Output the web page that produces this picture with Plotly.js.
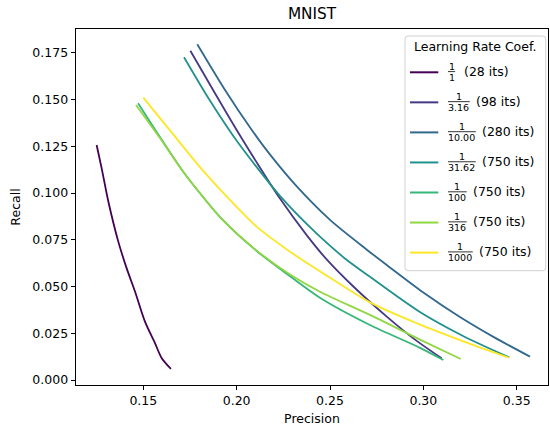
<!DOCTYPE html>
<html>
<head>
<meta charset="utf-8">
<script src="https://cdn.plot.ly/plotly-3.0.1.min.js"></script>
<style>html,body{margin:0;padding:0;background:#fff;}#chart{width:550px;height:430px;}</style>
</head>
<body>
<div id="chart"></div>
<script>
// ---- data ----
const lrDenominators = ["1", "3.16", "10.00", "31.62", "100", "316", "1000"];
const iterLabels = ["28 its", "98 its", "280 its", "750 its", "750 its", "750 its", "750 its"];

const precision_1 = [0.1250, 0.1277, 0.1313, 0.1366, 0.1411, 0.1456, 0.1509, 0.1563, 0.1599, 0.1648];
const recall_1    = [0.1257, 0.1132, 0.0953, 0.0740, 0.0597, 0.0472, 0.0312, 0.0196, 0.0116, 0.0059];

const precision_316 = [0.1752, 0.1880, 0.2000, 0.2116, 0.2232, 0.2375, 0.2482, 0.2625, 0.2804, 0.2950, 0.3098];
const recall_316    = [0.1761, 0.1540, 0.1337, 0.1150, 0.0970, 0.0775, 0.0645, 0.0500, 0.0339, 0.0220, 0.0116];

const precision_10 = [0.1789, 0.1935, 0.2081, 0.2179, 0.2322, 0.2500, 0.2697, 0.2804, 0.3000, 0.3196, 0.3380, 0.3571];
const recall_10    = [0.1795, 0.1555, 0.1337, 0.1205, 0.1035, 0.0856, 0.0697, 0.0615, 0.0468, 0.0337, 0.0228, 0.0125];

const precision_3162 = [0.1718, 0.1850, 0.1982, 0.2100, 0.2232, 0.2411, 0.2580, 0.2714, 0.2975, 0.3210, 0.3460];
const recall_3162    = [0.1726, 0.1505, 0.1305, 0.1148, 0.0985, 0.0800, 0.0650, 0.0552, 0.0368, 0.0237, 0.0121];

const precision_100 = [0.1472, 0.1589, 0.1707, 0.1768, 0.1928, 0.2107, 0.2286, 0.2446, 0.2714, 0.2982, 0.3107];
const recall_100    = [0.1480, 0.1299, 0.1123, 0.1043, 0.0853, 0.0690, 0.0555, 0.0440, 0.0294, 0.0172, 0.0107];

const precision_316b = [0.1461, 0.1589, 0.1707, 0.1768, 0.1928, 0.2107, 0.2286, 0.2446, 0.2714, 0.2982, 0.3200];
const recall_316b    = [0.1471, 0.1294, 0.1123, 0.1043, 0.0853, 0.0692, 0.0564, 0.0472, 0.0348, 0.0216, 0.0112];

const precision_1000 = [0.1500, 0.1659, 0.1821, 0.1964, 0.2107, 0.2286, 0.2464, 0.2714, 0.2973, 0.3214, 0.3460];
const recall_1000    = [0.1510, 0.1315, 0.1118, 0.0963, 0.0820, 0.0686, 0.0570, 0.0415, 0.0300, 0.0207, 0.0119];

const xTickVals = [0.15, 0.20, 0.25, 0.30, 0.35];
const yTickVals = [0.000, 0.025, 0.050, 0.075, 0.100, 0.125, 0.150, 0.175];

// ---- styling ----
const colors = ["#440154", "#443983", "#31688e", "#21918c", "#35b779", "#90d743", "#fde725"];
const FONT = "DejaVu Sans, Verdana, sans-serif";
const W = 550, H = 430;
const L = 76, R = 548, T = 29, B = 385;
const px = x => (x - L) / (R - L);
const py = y => (B - y) / (B - T);

const xs = [precision_1, precision_316, precision_10, precision_3162, precision_100, precision_316b, precision_1000];
const ys = [recall_1, recall_316, recall_10, recall_3162, recall_100, recall_316b, recall_1000];

const traces = xs.map((x, i) => ({
  type: "scatter", mode: "lines",
  x: x, y: ys[i],
  name: "1/" + lrDenominators[i] + " (" + iterLabels[i] + ")",
  line: {color: colors[i], width: 1.8, shape: "spline", smoothing: 0.8},
  showlegend: false,
  hoverinfo: "x+y+name"
}));

// ---- hand-drawn legend (fractions) ----
const shapes = [];
const annotations = [];
const boxL = 405, boxR = 545.7, boxT = 36, boxB = 270.7, rad = 3;
{
  const rx = rad / (R - L), ry = rad / (B - T);
  const x0 = px(boxL), x1 = px(boxR), y0 = py(boxB), y1 = py(boxT);
  const p = `M ${x0 + rx} ${y1} L ${x1 - rx} ${y1} Q ${x1} ${y1} ${x1} ${y1 - ry} ` +
            `L ${x1} ${y0 + ry} Q ${x1} ${y0} ${x1 - rx} ${y0} L ${x0 + rx} ${y0} ` +
            `Q ${x0} ${y0} ${x0} ${y0 + ry} L ${x0} ${y1 - ry} Q ${x0} ${y1} ${x0 + rx} ${y1} Z`;
  shapes.push({type: "path", xref: "paper", yref: "paper", path: p,
    fillcolor: "rgba(255,255,255,0.8)", line: {color: "#d0d0d0", width: 1}, layer: "above"});
}
annotations.push({xref: "paper", yref: "paper", x: px((boxL + boxR) / 2), y: py(46.7),
  text: "Learning Rate Coef.", showarrow: false, xanchor: "center", yanchor: "middle",
  font: {family: FONT, size: 12.5, color: "#000"}});

const fracSize = 9.5;
const charW = c => (c === "." ? 0.318 : 0.636);
lrDenominators.forEach((d, i) => {
  const ly = 72.3 + i * 30.05;
  shapes.push({type: "line", xref: "paper", yref: "paper",
    x0: px(410), x1: px(438.3), y0: py(ly), y1: py(ly),
    line: {color: colors[i], width: 2}, layer: "above"});
  const w = d.split("").reduce((s, c) => s + charW(c), 0) * fracSize;
  const fl = 448.3;
  const cx = fl + Math.max(w, 6.5) / 2;
  shapes.push({type: "line", xref: "paper", yref: "paper",
    x0: px(fl - 0.3), x1: px(fl + Math.max(w, 6.5) + 0.3), y0: py(ly - 0.7), y1: py(ly - 0.7),
    line: {color: "#000", width: 0.8}, layer: "above"});
  annotations.push({xref: "paper", yref: "paper", x: px(cx), y: py(ly - 6.3),
    text: "1", showarrow: false, xanchor: "center", yanchor: "middle",
    font: {family: FONT, size: fracSize, color: "#000"}});
  annotations.push({xref: "paper", yref: "paper", x: px(cx), y: py(ly + 5.3),
    text: d, showarrow: false, xanchor: "center", yanchor: "middle",
    font: {family: FONT, size: fracSize, color: "#000"}});
  annotations.push({xref: "paper", yref: "paper", x: px(fl + Math.max(w, 9) + 5.0), y: py(ly - 1.2),
    text: "(" + iterLabels[i] + ")", showarrow: false, xanchor: "left", yanchor: "middle",
    font: {family: FONT, size: 12.5, color: "#000"}});
});

const axisCommon = {
  showline: true, linecolor: "#000", linewidth: 1, mirror: true,
  ticks: "outside", ticklen: 4.4, tickwidth: 1, tickcolor: "#000",
  showgrid: false, zeroline: false,
  tickfont: {family: FONT, size: 12.5, color: "#000"}
};

const layout = {
  width: W, height: H,
  margin: {l: L, r: W - R, t: T, b: H - B, pad: 0},
  paper_bgcolor: "#fff", plot_bgcolor: "#fff",
  font: {family: FONT, color: "#000"},
  title: {text: "MNIST", x: px(312), xref: "paper", xanchor: "center",
          y: 1 - 13.5 / H, yref: "container", yanchor: "middle",
          font: {family: FONT, size: 15.3, color: "#000"}},
  xaxis: Object.assign({}, axisCommon, {
    range: [0.11395, 0.36676], tickvals: xTickVals, tickformat: ".2f",
    title: {text: "Precision", font: {family: FONT, size: 12.5, color: "#000"}, standoff: 6}
  }),
  yaxis: Object.assign({}, axisCommon, {
    range: [-0.00267, 0.1877], tickvals: yTickVals, tickformat: ".3f",
    title: {text: "Recall", font: {family: FONT, size: 12.5, color: "#000"}, standoff: 8}
  }),
  shapes: shapes,
  annotations: annotations,
  showlegend: false
};

Plotly.newPlot("chart", traces, layout, {displayModeBar: false, responsive: false});
</script>
</body>
</html>
